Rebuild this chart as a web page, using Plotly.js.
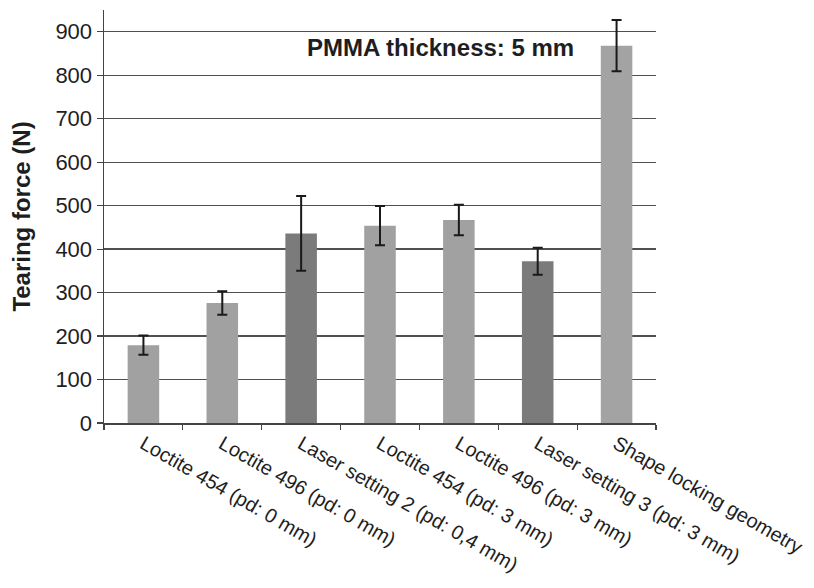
<!DOCTYPE html>
<html>
<head>
<meta charset="utf-8">
<script src="https://cdn.plot.ly/plotly-3.0.1.min.js"></script>
<style>
  html, body { margin: 0; padding: 0; background: #ffffff; }
  #chart { width: 814px; height: 588px; }
</style>
</head>
<body>
<div id="chart"></div>
<script>
// ---- data ----
const categories = [
  "Loctite 454 (pd: 0 mm)",
  "Loctite 496 (pd: 0 mm)",
  "Laser setting 2 (pd: 0,4 mm)",
  "Loctite 454 (pd: 3 mm)",
  "Loctite 496 (pd: 3 mm)",
  "Laser setting 3 (pd: 3 mm)",
  "Shape locking geometry"
];
const tearingForce = [179, 276, 436, 454, 467, 372, 868];
const errorValues  = [22, 27, 86, 45, 35, 31, 59];
const yTickValues  = [0, 100, 200, 300, 400, 500, 600, 700, 800, 900];
const annotationText = "PMMA thickness: 5 mm";
const yTitle = "Tearing force (N)";

// ---- styling ----
const barColors = ["#a1a1a1", "#a1a1a1", "#7b7b7b", "#a1a1a1", "#a1a1a1", "#7b7b7b", "#a3a3a3"];
const FONT = "Liberation Sans, Arial, sans-serif";

const trace = {
  type: "bar",
  x: categories,
  y: tearingForce,
  marker: { color: barColors, line: { width: 0 } },
  error_y: {
    type: "data",
    array: errorValues,
    visible: true,
    color: "#1a1a1a",
    thickness: 2,
    width: 5
  },
  hoverinfo: "x+y"
};

const layout = {
  width: 814,
  height: 588,
  margin: { l: 104, r: 158, t: 10, b: 165, pad: 0 },
  paper_bgcolor: "#ffffff",
  plot_bgcolor: "#ffffff",
  bargap: 0.6,
  showlegend: false,
  font: { family: FONT, color: "#1e1e1e" },
  xaxis: {
    type: "category",
    tickson: "boundaries",
    ticks: "outside",
    ticklen: 5,
    tickcolor: "#444444",
    tickwidth: 1.2,
    tickangle: 30,
    tickfont: { family: FONT, size: 20, color: "#1e1e1e" },
    showline: true,
    linecolor: "#444444",
    linewidth: 1.5,
    showgrid: false,
    zeroline: false,
    automargin: false
  },
  yaxis: {
    range: [0, 950],
    tickvals: yTickValues,
    ticktext: yTickValues.map(String),
    ticks: "outside",
    ticklen: 6,
    tickcolor: "#444444",
    tickwidth: 1.2,
    tickfont: { family: FONT, size: 22, color: "#1e1e1e" },
    showline: true,
    linecolor: "#444444",
    linewidth: 1.5,
    showgrid: true,
    gridcolor: "#505050",
    gridwidth: 1.3,
    zeroline: false,
    automargin: false,
    title: {
      text: "<b>" + yTitle + "</b>",
      font: { family: FONT, size: 24, color: "#1e1e1e" },
      standoff: 18
    }
  },
  annotations: [{
    text: "<b>" + annotationText + "</b>",
    xref: "paper", yref: "paper",
    x: 0.61, y: 0.908,
    xanchor: "center", yanchor: "middle",
    showarrow: false,
    font: { family: FONT, size: 24, color: "#1e1e1e" }
  }]
};

Plotly.newPlot("chart", [trace], layout, { displayModeBar: false, staticPlot: true });
</script>
</body>
</html>
